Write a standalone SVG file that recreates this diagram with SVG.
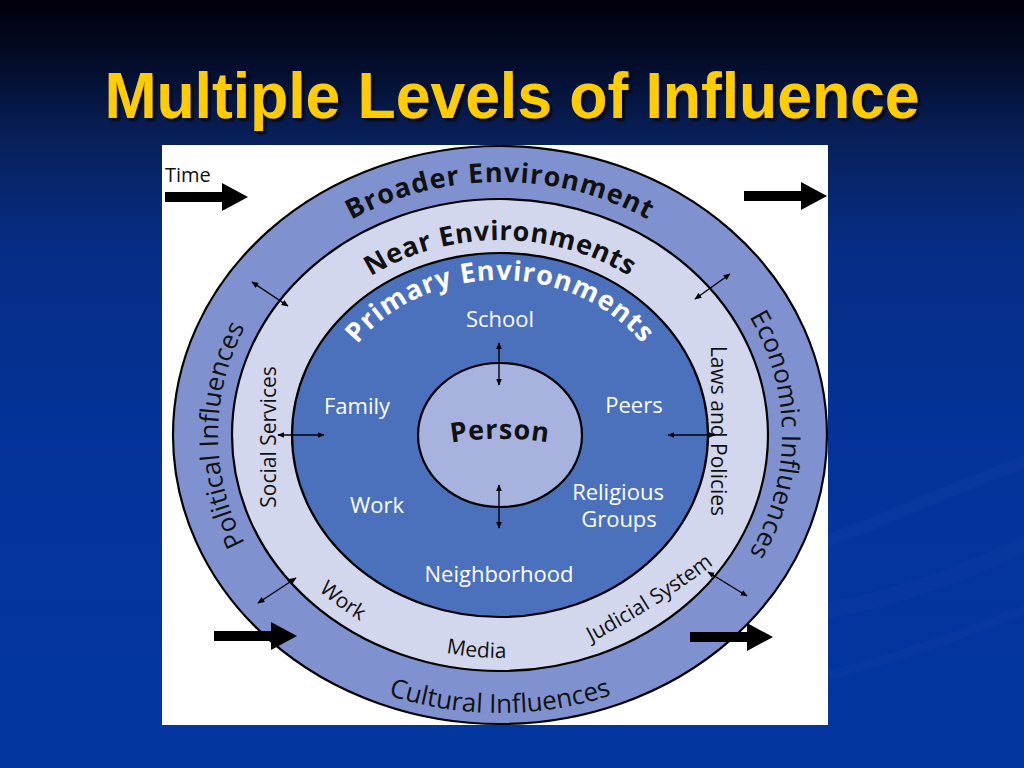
<svg xmlns="http://www.w3.org/2000/svg" xmlns:xlink="http://www.w3.org/1999/xlink" width="1024" height="768" viewBox="0 0 1024 768">
  <defs>
    <linearGradient id="bg" x1="0" y1="0" x2="0" y2="1">
      <stop offset="0" stop-color="#00000a"/>
      <stop offset="0.07" stop-color="#020a24"/>
      <stop offset="0.18" stop-color="#08205a"/>
      <stop offset="0.32" stop-color="#062d85"/>
      <stop offset="0.6" stop-color="#04339a"/>
      <stop offset="1" stop-color="#0336a0"/>
    </linearGradient>
    <filter id="shadow" x="-5%" y="-20%" width="110%" height="150%">
      <feDropShadow dx="3" dy="3" stdDeviation="0.8" flood-color="#000" flood-opacity="0.75"/>
    </filter>
    <style>
      .ring { stroke: #000; stroke-width: 2.2; }
      .lblW { font-family: "Open Sans", "DejaVu Sans", sans-serif; font-size: 22px; fill: #ffffff; text-anchor: middle; }
      .lblB { font-family: "Open Sans", "DejaVu Sans", sans-serif; font-size: 21px; fill: #111; text-anchor: middle; }
      .outer { font-family: "Open Sans", "DejaVu Sans", sans-serif; font-size: 26px; fill: #111; text-anchor: middle; }
      .bold { font-family: "Open Sans", "DejaVu Sans", sans-serif; font-weight: bold; font-size: 27px; text-anchor: middle; }
      .conn line { stroke: #000; stroke-width: 1.4; marker-start: url(#ah); marker-end: url(#ah); }
      .title { font-family: "Liberation Sans", Arial, sans-serif; font-weight: bold; font-size: 64px; }
    </style>
    <marker id="ah" viewBox="0 0 10 10" refX="9" refY="5" markerWidth="7" markerHeight="7" orient="auto-start-reverse" markerUnits="userSpaceOnUse">
      <path d="M0,0.8 L10,5 L0,9.2 z" fill="#000"/>
    </marker>
    <path id="bigArrow" d="M-83,-5 L-26,-5 L-26,-14 L0,0 L-26,14 L-26,5 L-83,5 z" fill="#000"/>
    <path id="pOuterCW" d="M 500,688 A 282 253 0 0 1 218,435 A 282 253 0 0 1 500,182 A 282 253 0 0 1 782,435 A 282 253 0 0 1 500,688"/>
    <path id="pNear" d="M 278,435 A 222 195 0 0 1 722,435"/>
    <path id="pPrimary" d="M 324,435 A 176 155 0 0 1 676,435"/>
    <path id="pCultural" d="M 184,435 A 316 278 0 0 0 816,435"/>
    <path id="pNearBottom" d="M 247,435 A 253 223 0 0 0 753,435"/>
    <path id="pJudicial" d="M 582,647 Q 655,610 722,558"/>
    <path id="pPerson" d="M 430,447 A 300 300 0 0 1 570,447"/>
  </defs>

  <!-- background -->
  <rect x="0" y="0" width="1024" height="768" fill="url(#bg)"/>
  <g id="swoosh" fill="none" stroke="#3a66c4" stroke-linecap="round">
    <path d="M 828,540 C 900,515 970,480 1024,462" stroke-width="12" opacity="0.1"/>
    <path d="M 828,610 C 890,600 960,575 1024,545" stroke-width="16" opacity="0.08"/>
    <path d="M 828,675 C 910,655 985,625 1024,610" stroke-width="9" opacity="0.08"/>
  </g>

  <!-- title -->
  <g id="title">
    <text class="title" x="512" y="118" text-anchor="middle" textLength="815" lengthAdjust="spacingAndGlyphs" fill="#FFCC00" filter="url(#shadow)">Multiple Levels of Influence</text>
  </g>

  <!-- white panel -->
  <rect id="panel" x="162" y="145" width="666" height="580" fill="#ffffff"/>

  <!-- rings -->
  <g id="broader">
    <ellipse class="ring" cx="500" cy="435" rx="327" ry="289" fill="#7f92cf"/>
    <text class="bold" fill="#111" letter-spacing="1"><textPath href="#pOuterCW" startOffset="50%">Broader Environment</textPath></text>
    <text class="outer"><textPath href="#pOuterCW" startOffset="25%">Political Influences</textPath></text>
    <text class="outer"><textPath href="#pOuterCW" startOffset="75%">Economic Influences</textPath></text>
    <text class="outer"><textPath href="#pCultural" startOffset="50%">Cultural Influences</textPath></text>
  </g>

  <g id="near">
    <ellipse class="ring" cx="500" cy="435" rx="268" ry="236" fill="#d3d7ee"/>
    <text class="bold" fill="#111" letter-spacing="0.6"><textPath href="#pNear" startOffset="50%">Near Environments</textPath></text>
    <text class="lblB" transform="translate(276,437) rotate(-90)">Social Services</text>
    <text class="lblB" transform="translate(711,431) rotate(90)">Laws and Policies</text>
    <text class="lblB"><textPath href="#pNearBottom" startOffset="27%">Work</textPath></text>
    <text class="lblB"><textPath href="#pNearBottom" startOffset="46.8%">Media</textPath></text>
    <text class="lblB"><textPath href="#pJudicial" startOffset="50%">Judicial System</textPath></text>
  </g>

  <g id="primary">
    <ellipse class="ring" cx="500" cy="435" rx="208" ry="182" fill="#4b70bc"/>
    <text class="bold" fill="#ffffff" font-size="26" letter-spacing="1"><textPath href="#pPrimary" startOffset="50%">Primary Environments</textPath></text>
    <text class="lblW" x="500" y="327">School</text>
    <text class="lblW" x="357" y="414">Family</text>
    <text class="lblW" x="634" y="413">Peers</text>
    <text class="lblW" x="377" y="513">Work</text>
    <text class="lblW" x="618" y="500">Religious</text>
    <text class="lblW" x="619" y="527">Groups</text>
    <text class="lblW" x="499" y="582">Neighborhood</text>
  </g>

  <g id="person">
    <ellipse class="ring" cx="500" cy="435" rx="82" ry="72" fill="#a8b2df"/>
    <text class="bold" fill="#111" font-size="27" letter-spacing="0.8"><textPath href="#pPerson" startOffset="50%">Person</textPath></text>
  </g>

  <!-- time arrows and label -->
  <g id="time">
    <text x="165" y="182" font-family="'Open Sans', 'DejaVu Sans', sans-serif" font-size="20" fill="#111">Time</text>
    <use href="#bigArrow" transform="translate(248,197)"/>
    <use href="#bigArrow" transform="translate(827,196)"/>
    <use href="#bigArrow" transform="translate(297,636)"/>
    <use href="#bigArrow" transform="translate(773,637)"/>
  </g>

  <!-- connectors -->
  <g id="connectors" class="conn">
    <line x1="252" y1="282" x2="288" y2="306"/>
    <line x1="278" y1="435" x2="324" y2="435"/>
    <line x1="668" y1="435" x2="715" y2="435"/>
    <line x1="695" y1="299" x2="730" y2="274"/>
    <line x1="258" y1="603" x2="296" y2="578"/>
    <line x1="708" y1="572" x2="747" y2="596"/>
    <line x1="499" y1="343" x2="499" y2="385"/>
    <line x1="499" y1="485" x2="499" y2="528"/>
  </g>
</svg>
